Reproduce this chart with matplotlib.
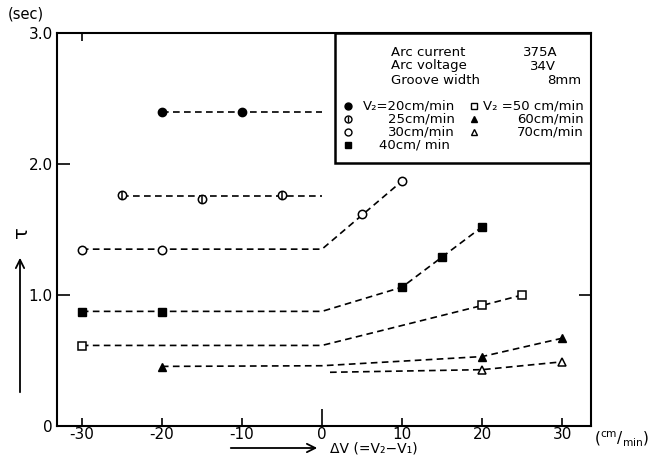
import matplotlib
matplotlib.use('Agg')
import matplotlib.pyplot as plt
from matplotlib.patches import Rectangle

plt.rcParams['font.family'] = ['DejaVu Sans']

# measured points (delta V in cm/min, tau in sec)
v20_x = [-20, -10]
v20_y = [2.40, 2.40]
v25_x = [-25, -15, -5]
v25_y = [1.76, 1.73, 1.76]
v30_x = [-30, -20, 5, 10]
v30_y = [1.34, 1.34, 1.62, 1.87]
v40_x = [-30, -20, 10, 15, 20]
v40_y = [0.87, 0.87, 1.06, 1.29, 1.52]
v50_x = [-30, 20, 25]
v50_y = [0.61, 0.92, 1.00]
v60_x = [-20, 20, 30]
v60_y = [0.45, 0.53, 0.67]
v70_x = [20, 30]
v70_y = [0.43, 0.49]

# dashed guide lines
v20_lx, v20_ly = [-20, 0], [2.40, 2.40]
v25_lx, v25_ly = [-25, 0], [1.755, 1.755]
v30_lx, v30_ly = [-30, 0, 10], [1.35, 1.35, 1.87]
v40_lx, v40_ly = [-30, 0, 10, 20], [0.875, 0.875, 1.06, 1.52]
v50_lx, v50_ly = [-30, 0, 20, 25], [0.615, 0.615, 0.92, 1.00]
v60_lx, v60_ly = [-20, 0, 20, 30], [0.455, 0.46, 0.53, 0.67]
v70_lx, v70_ly = [1, 20, 30], [0.41, 0.43, 0.49]

xticks = [-30, -20, -10, 0, 10, 20, 30]
xtick_labels = ['-30', '-20', '-10', '0', '10', '20', '30']
yticks = [0, 1.0, 2.0, 3.0]
ytick_labels = ['0', '1.0', '2.0', '3.0']

W, H = 651, 455
fig = plt.figure(figsize=(W / 100, H / 100), dpi=100)
ax = fig.add_axes([57 / W, 1 - 426 / H, 534 / W, 393 / H])
ax.set_xlim(-33.1, 33.6)
ax.set_ylim(0, 3.0)

dash = dict(color='black', lw=1.2, dashes=(4, 2.6))
for lx, ly in [(v20_lx, v20_ly), (v25_lx, v25_ly), (v30_lx, v30_ly),
               (v40_lx, v40_ly), (v50_lx, v50_ly), (v60_lx, v60_ly),
               (v70_lx, v70_ly)]:
    ax.plot(lx, ly, **dash)

k = dict(ls='none', color='black', zorder=3)
ax.plot(v20_x, v20_y, marker='o', ms=6, **k)
ax.plot(v25_x, v25_y, marker='o', ms=6, mfc='white', mew=1.1, **k)
ax.plot(v25_x, v25_y, marker='|', ms=6, mew=1.1, **k)
ax.plot(v30_x, v30_y, marker='o', ms=6, mfc='white', mew=1.1, **k)
ax.plot(v40_x, v40_y, marker='s', ms=5.5, **k)
ax.plot(v50_x, v50_y, marker='s', ms=5.5, mfc='white', mew=1.1, **k)
ax.plot(v60_x, v60_y, marker='^', ms=6, **k)
ax.plot(v70_x, v70_y, marker='^', ms=6, mfc='white', mew=1.1, **k)

for s in ax.spines.values():
    s.set_linewidth(1.5)
ax.set_xticks(xticks)
ax.set_xticklabels(xtick_labels, fontsize=11)
ax.set_yticks(yticks)
ax.set_yticklabels(ytick_labels, fontsize=11)
ax.tick_params(direction='in', length=6, width=1.2, pad=1)
ax.tick_params(axis='y', length=9, pad=3)
for t, v in zip(ax.xaxis.get_major_ticks(), xticks):
    if v == 0:
        t.tick1line.set_markersize(12)

top = ax.secondary_xaxis('top')
top.set_xticks([-30])
top.set_xticklabels([])
top.tick_params(direction='in', length=6, width=1.2)
top.spines['top'].set_visible(False)
right = ax.secondary_yaxis('right')
right.set_yticks([1.0])
right.set_yticklabels([])
right.tick_params(direction='in', length=9, width=1.2)
right.spines['right'].set_visible(False)

# legend / conditions box
ax.add_patch(Rectangle((0.5206, 0.669), 0.4794, 0.331, transform=ax.transAxes,
                       fill=False, lw=1.8, ec='black', zorder=4))
fs = 9.5
def yy(py):
    return (426 - py) / 393

def xx(px):
    return (px - 57) / 534

tk = dict(transform=ax.transAxes, fontsize=fs, va='center')
ax.text(xx(391), yy(52), 'Arc current', **tk)
ax.text(xx(391), yy(66), 'Arc voltage', **tk)
ax.text(xx(391), yy(80), 'Groove width', **tk)
ax.text(xx(523), yy(52), '375A', **tk)
ax.text(xx(530), yy(66), '34V', **tk)
ax.text(xx(547), yy(80), '8mm', **tk)

rows = [yy(106), yy(119), yy(132), yy(145)]
mk = dict(transform=ax.transAxes, ls='none', color='black', clip_on=False, zorder=5)
ax.plot([xx(348)], [rows[0]], marker='o', ms=5, **mk)
ax.plot([xx(348)], [rows[1]], marker='o', ms=5, mfc='white', mew=1, **mk)
ax.plot([xx(348)], [rows[1]], marker='|', ms=5, mew=1, **mk)
ax.plot([xx(348)], [rows[2]], marker='o', ms=5, mfc='white', mew=1, **mk)
ax.plot([xx(348)], [rows[3]], marker='s', ms=4.5, **mk)
ax.plot([xx(474)], [rows[0]], marker='s', ms=4.5, mfc='white', mew=1, **mk)
ax.plot([xx(474)], [rows[1]], marker='^', ms=5, **mk)
ax.plot([xx(474)], [rows[2]], marker='^', ms=5, mfc='white', mew=1, **mk)

ax.text(xx(455), rows[0], 'V₂=20cm/min', ha='right', **tk)
ax.text(xx(455), rows[1], '25cm/min', ha='right', **tk)
ax.text(xx(455), rows[2], '30cm/min', ha='right', **tk)
ax.text(xx(450), rows[3], '40cm/ min', ha='right', **tk)
ax.text(xx(584), rows[0], 'V₂ =50 cm/min', ha='right', **tk)
ax.text(xx(584), rows[1], '60cm/min', ha='right', **tk)
ax.text(xx(584), rows[2], '70cm/min', ha='right', **tk)

# axis annotations
fig.text(26 / W, 1 - 14 / H, '(sec)', fontsize=10.5, ha='center', va='center')
fig.text(622 / W, 1 - 438 / H, r'(${}^{\mathrm{cm}}/_{\mathrm{min}}$)', fontsize=11,
         ha='center', va='center')
fig.text(21 / W, 1 - 232 / H, 'τ', fontsize=14, rotation=90, ha='center', va='center')
ax.annotate('', xy=(320 / W, 1 - 448 / H), xytext=(228 / W, 1 - 448 / H),
            xycoords='figure fraction', textcoords='figure fraction',
            arrowprops=dict(arrowstyle='->', lw=1.3, color='black', mutation_scale=15))
ax.annotate('', xy=(20 / W, 1 - 255 / H), xytext=(20 / W, 1 - 395 / H),
            xycoords='figure fraction', textcoords='figure fraction',
            arrowprops=dict(arrowstyle='->', lw=1.3, color='black', mutation_scale=15))
fig.text(330 / W, 1 - 449 / H, 'ΔV (=V₂−V₁)', fontsize=10, ha='left', va='center')

fig.savefig('out.png', dpi=100)
